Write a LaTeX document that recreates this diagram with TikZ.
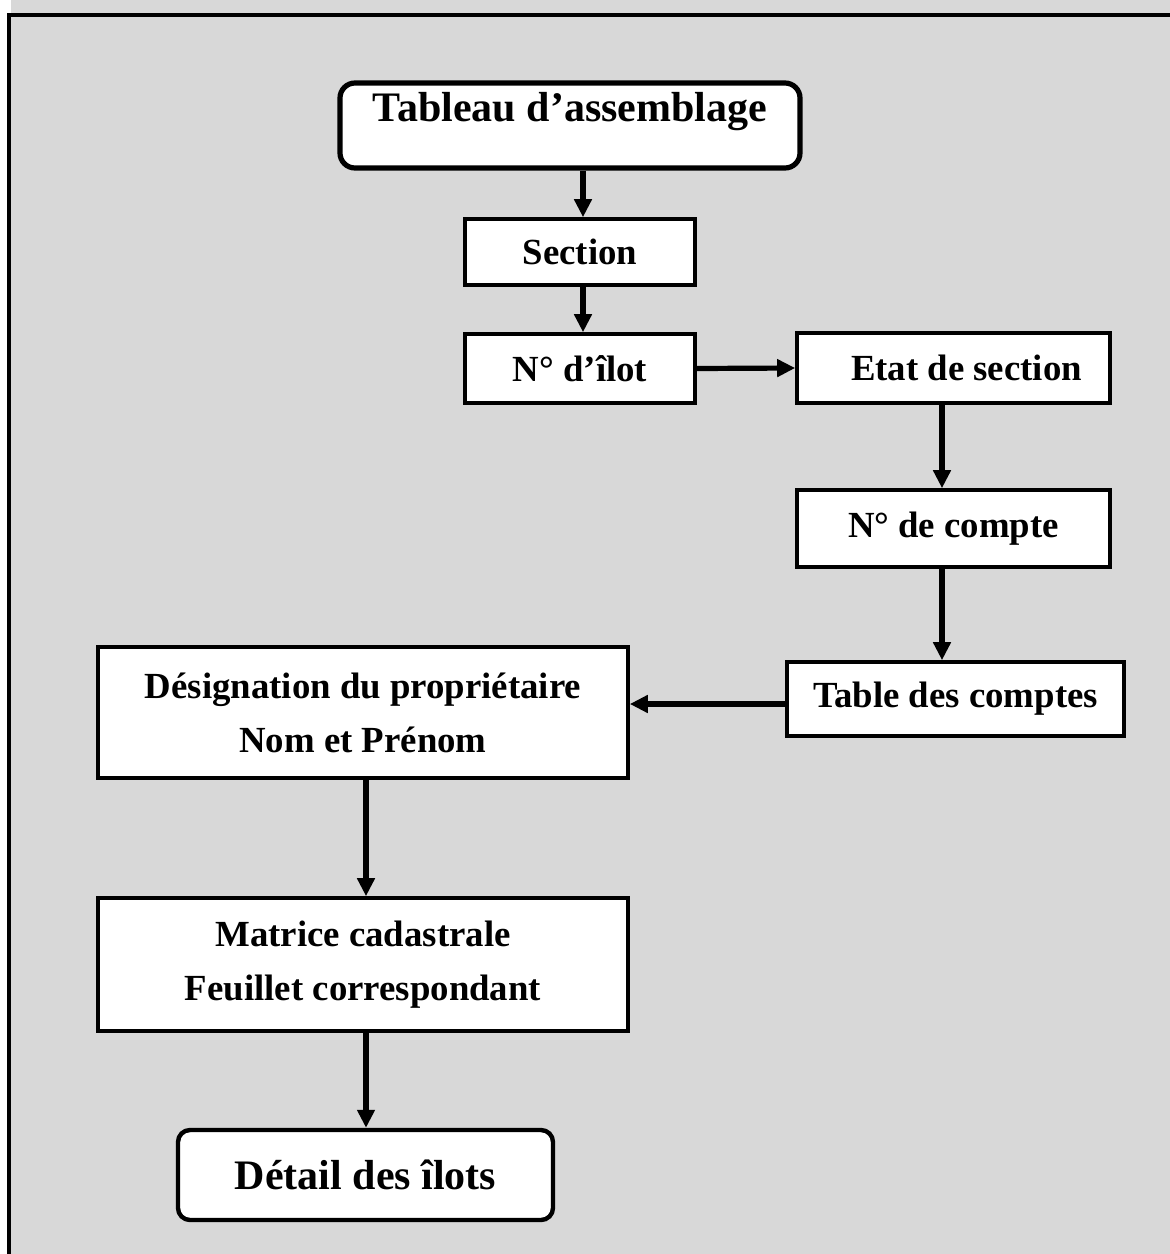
\documentclass[tikz,border=0pt]{standalone}
\usepackage{fontspec}
\setmainfont{Liberation Serif}
\usetikzlibrary{arrows.meta}
\definecolor{panel}{HTML}{D8D8D8}
\begin{document}
\begin{tikzpicture}[x=0.5pt,y=-0.5pt,
  every node/.style={font=\bfseries\fontsize{18.4pt}{27pt}\selectfont},
  sqbox/.style={draw,fill=white,line width=1.8pt,inner sep=2pt,align=center},
  rbox/.style={draw,fill=white,rounded corners=6pt,align=center},
  arr/.style={line width=2.6pt,-{Triangle[length=9pt,width=8.5pt]}}]
  \useasboundingbox (0,0) rectangle (1170,1254);
  \clip (0,0) rectangle (1170,1254);
  % page background and frame
  \fill[panel] (11,0) rectangle (1170,1254);
  \draw[line width=2pt] (9,1300) -- (9,15) -- (1200,15);

  % boxes
  \node[rbox,line width=2.6pt,rounded corners=7.5pt,minimum width=230pt,minimum height=42.5pt,
        inner sep=1pt,text height=18pt,text depth=22.5pt,
        font=\bfseries\fontsize{21pt}{25pt}\selectfont] (tab) at (570,125.5) {Tableau d’assemblage};
  \node[sqbox,minimum width=115pt,minimum height=33pt] (sec) at (580,252) {Section};
  \node[sqbox,minimum width=115pt,minimum height=34.5pt] (ilot) at (580,368.5) {N° d’îlot};
  \node[sqbox,minimum width=156.5pt,minimum height=35pt] (etat) at (953.5,368) {\hspace*{13pt}Etat de section};
  \node[sqbox,minimum width=156.5pt,minimum height=38.5pt] (compte) at (953.5,528.5) {N° de compte};
  \node[sqbox,minimum width=168.5pt,minimum height=37pt] (table) at (955.5,699) {Table des comptes};
  \node[sqbox,minimum width=265pt,minimum height=65.5pt] (desig) at (363,712.5) {Désignation du propriétaire\\Nom et Prénom};
  \node[sqbox,minimum width=265pt,minimum height=66.5pt] (matrice) at (363,964.5) {Matrice cadastrale\\Feuillet correspondant};
  \node[rbox,line width=2.2pt,rounded corners=6pt,minimum width=187.5pt,minimum height=45pt,
        font=\bfseries\fontsize{21pt}{25pt}\selectfont] (detail) at (365.5,1175) {Détail des îlots};

  % connectors
  \draw[arr] (tab.south -| 583,0) -- (sec.north -| 583,0);
  \draw[arr] (sec.south -| 583,0) -- (ilot.north -| 583,0);
  \draw[arr] (ilot.east) -- (etat.west);
  \draw[arr] (etat.south -| 942,0) -- (compte.north -| 942,0);
  \draw[arr] (compte.south -| 942,0) -- (table.north -| 942,0);
  \draw[arr] (table.west |- 0,704) -- (desig.east |- 0,704);
  \draw[arr] (desig.south -| 366,0) -- (matrice.north -| 366,0);
  \draw[arr] (matrice.south -| 366,0) -- (detail.north -| 366,0);
\end{tikzpicture}
\end{document}
